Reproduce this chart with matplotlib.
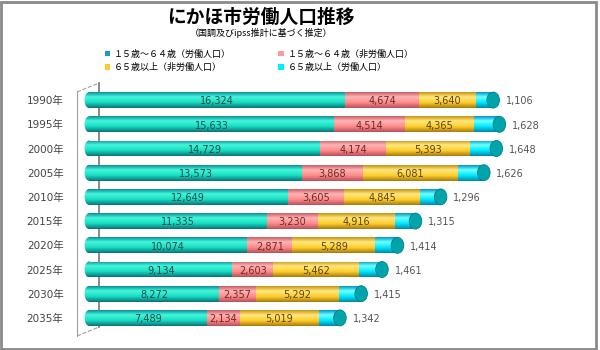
import numpy as np
import matplotlib
matplotlib.use('Agg')
import matplotlib.pyplot as plt
from matplotlib.colors import LinearSegmentedColormap
from matplotlib.patches import Ellipse, Patch, Rectangle
from matplotlib.lines import Line2D

plt.rcParams['font.family'] = ['Noto Sans CJK JP', 'DejaVu Sans']

years = ['1990年', '1995年', '2000年', '2005年', '2010年',
         '2015年', '2020年', '2025年', '2030年', '2035年']
labor_15_64 = [16324, 15633, 14729, 13573, 12649, 11335, 10074, 9134, 8272, 7489]
nonlabor_15_64 = [4674, 4514, 4174, 3868, 3605, 3230, 2871, 2603, 2357, 2134]
nonlabor_65 = [3640, 4365, 5393, 6081, 4845, 4916, 5289, 5462, 5292, 5019]
labor_65 = [1106, 1628, 1648, 1626, 1296, 1315, 1414, 1461, 1415, 1342]

series_names = ['１５歳～６４歳（労働人口）', '１５歳～６４歳（非労働人口）',
                '６５歳以上（非労働人口）', '６５歳以上（労働人口）']
series = [labor_15_64, nonlabor_15_64, nonlabor_65, labor_65]

# top edge, highlight, base, bottom edge
shades = [
    ['#0b8f9a', '#45f7dc', '#18dcc0', '#08727a'],
    ['#c85f66', '#ffb4b4', '#ff8c8c', '#b85058'],
    ['#c89410', '#ffe680', '#ffcf2e', '#a87a0c'],
    ['#0098c8', '#70ffff', '#00e8ff', '#0088aa'],
]
text_colors = ['#1e4a4a', '#6a2a2a', '#5a4418', '#555555']
legend_colors = ['#1a9ec8', '#ff9a9a', '#ffc830', '#00eeff']

cmaps = [LinearSegmentedColormap.from_list('c%d' % i,
         [(0, s[0]), (0.3, s[1]), (0.65, s[2]), (1, s[3])]) for i, s in enumerate(shades)]
grad = np.linspace(0, 1, 64).reshape(-1, 1)

W, H = 600, 350
scale = 0.0157  # pixels per person
fig = plt.figure(figsize=(6, 3.5), dpi=100)
ax = fig.add_axes([78 / W, (H - 330) / H, 517 / W, 242 / H])
ax.patch.set_visible(False)

y = np.arange(len(years))
h = 0.66
cap_w = 800
left = np.zeros(len(years))

# rounded left ends
for yi in y:
    e = Ellipse((0, yi), cap_w * 0.7, h, facecolor='none', edgecolor='none')
    ax.add_patch(e)
    im = ax.imshow(grad, extent=(-cap_w / 2, 0, yi + h / 2, yi - h / 2), origin='upper',
                   aspect='auto', cmap=cmaps[0], zorder=2)
    im.set_clip_path(e)

for k, vals in enumerate(series):
    bars = ax.barh(y, vals, left=left, height=h, color=shades[k][2], zorder=1)
    for b, v, l, yi in zip(bars, vals, left, y):
        im = ax.imshow(grad, extent=(l, l + v, yi + h / 2, yi - h / 2), origin='upper',
                       aspect='auto', cmap=cmaps[k], zorder=2)
        im.set_clip_path(b)
        if k < 3:
            ax.text(l + v / 2, yi + 0.05, f'{v:,}', ha='center', va='center',
                    fontsize=7, color=text_colors[k], family='DejaVu Sans', zorder=5)
    left = left + np.array(vals)

# right end caps and outside labels
for yi, tot, v in zip(y, left, labor_65):
    ax.add_patch(Ellipse((tot, yi), cap_w, h, facecolor='#00a4aa',
                         edgecolor='#00808a', linewidth=0.6, zorder=3))
    ax.text(tot + 800, yi + 0.05, f'{v:,}', ha='left', va='center',
            fontsize=7, color=text_colors[3], family='DejaVu Sans', zorder=5)

ax.set_xlim(-11 / scale, 506 / scale)
ax.set_ylim(9.5, -0.5)
ax.set_xticks([])
ax.set_yticks(y)
ax.set_yticklabels(years, fontsize=7.5, color='#444444',
                   family=['DejaVu Sans', 'Noto Sans CJK JP'])
ax.tick_params(axis='y', length=0, pad=10.5)
for s in ax.spines.values():
    s.set_visible(False)

# wall lines behind the bars
def fline(xs, ys, **kw):
    fig.add_artist(Line2D([x / W for x in xs], [1 - v / H for v in ys],
                          transform=fig.transFigure, zorder=-1, **kw))

fline([77, 77], [92, 336], color='#a0a0a0', lw=0.8)
fline([77, 99], [92, 83], color='#a0a0a0', lw=0.8, ls='--')
fline([77, 99], [336, 327], color='#a0a0a0', lw=0.8, ls='--')
fline([99, 99], [83, 327], color='#808080', lw=1.3)

fig.text(261 / W, 1 - 17 / H, 'にかほ市労働人口推移', ha='center', va='center',
         fontsize=13.5, fontweight='bold')
fig.text(261 / W, 1 - 33 / H, '（国調及びipss推計に基づく推定）', ha='center', va='center',
         fontsize=6.5)

# matplotlib fills legend columns first, so reorder to read row by row
order = [0, 2, 1, 3]
handles = [Patch(facecolor=legend_colors[i], edgecolor='none') for i in order]
fig.legend(handles, [series_names[i] for i in order], loc='upper left',
           bbox_to_anchor=(101 / W, 1 - 46 / H),
           ncol=2, fontsize=6.5, frameon=False, handlelength=0.6, handleheight=0.6,
           handletextpad=0.4, columnspacing=5.3, labelspacing=0.5, borderaxespad=0)

fig.add_artist(Rectangle((1 / W, 1 / H), 595 / W, 347 / H, transform=fig.transFigure,
                         fill=False, edgecolor='#8a8a8a', linewidth=2))

fig.savefig('out.png', dpi=100, facecolor='white')
